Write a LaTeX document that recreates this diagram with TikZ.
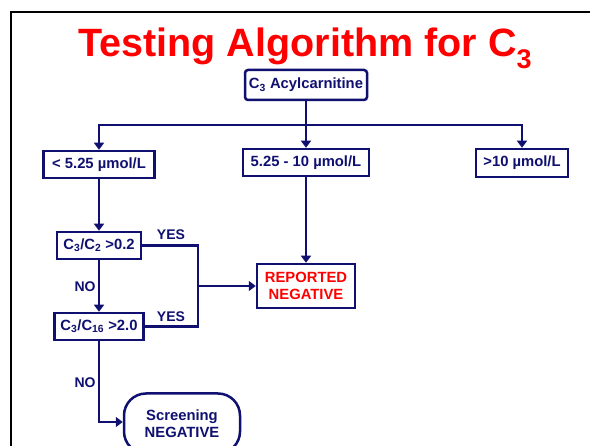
\documentclass[tikz,border=0pt]{standalone}
\usepackage{fontspec}
\setmainfont{Liberation Sans}
\usetikzlibrary{arrows.meta}
\definecolor{navy}{RGB}{16,16,112}
\definecolor{tred}{RGB}{255,0,0}
\tikzset{
  box/.style={draw=navy, line width=2.5pt, fill=white, text=navy, font=\fontsize{14.8}{17.5}\selectfont\bfseries, inner sep=0pt, align=center},
  conn/.style={draw=navy, line width=2.7pt},
  arr/.style={conn, -{Triangle[width=10pt,length=7pt]}},
  lbl/.style={text=navy, font=\fontsize{14}{15}\selectfont\bfseries, inner sep=0pt}
}
\begin{document}
\begin{tikzpicture}[x=1pt,y=-1pt]
\useasboundingbox (0,0) rectangle (590,446);
\clip (0,0) rectangle (590,446);
\fill[white] (0,0) rectangle (590,446);
\draw[line width=2.8pt, black] (11,470) -- (11,12) -- (620,12);
% title
\node[anchor=base, text=tred, font=\fontsize{39.5}{44}\selectfont\bfseries, inner sep=0pt] (title) at (305,57) {Testing Algorithm for C\raisebox{-0.28em}{\fontsize{27}{27}\selectfont 3}};
% nodes
\node[box, rounded corners=3pt, minimum width=122pt, minimum height=30pt] (top) at (306,85) {C\textsubscript{3} Acylcarnitine};
\node[box, minimum width=111pt, minimum height=27pt] (lo) at (99,164.5) {< 5.25 µmol/L};
\node[box, minimum width=126pt, minimum height=27pt] (mid) at (306,162.5) {5.25 - 10 µmol/L};
\node[box, minimum width=92pt, minimum height=28pt] (hi) at (522,163) {>10 µmol/L};
\node[box, minimum width=84pt, minimum height=27pt] (r1) at (99,245.5) {C\textsubscript{3}/C\textsubscript{2} >0.2};
\node[box, minimum width=89pt, minimum height=27pt] (r2) at (99,326.5) {C\textsubscript{3}/C\textsubscript{16} >2.0};
\node[box, text=tred, minimum width=98pt, minimum height=44pt] (rep) at (306,286) {REPORTED\\NEGATIVE};
\node[box, rounded corners=22pt, minimum width=116pt, minimum height=60pt] (scr) at (182,423.5) {Screening\\NEGATIVE};
% connectors
\coordinate (bus) at (306,125);
\coordinate (j) at (198,286);
\draw[conn] (top.south) -- (bus);
\draw[arr] (bus) -| (lo.north);
\draw[arr] (bus) -| (hi.north);
\draw[arr] (bus) -- (mid.north);
\draw[arr] (lo.south) -- (r1.north);
\draw[arr] (r1.south) -- (r2.north);
\draw[conn] (r1.east) -| (j);
\draw[conn] (r2.east) -| (j);
\draw[arr] (j) -- (rep.west);
\draw[arr] (mid.south) -- (rep.north);
\coordinate (c) at (99,422);
\draw[arr] (r2.south) -- (c) -- (scr.west |- c);
% labels
\node[lbl] (y1) at (171,235) {YES};
\node[lbl] (y2) at (171,317) {YES};
\node[lbl] (n1) at (85,287) {NO};
\node[lbl] (n2) at (85,383) {NO};
\end{tikzpicture}
\end{document}
